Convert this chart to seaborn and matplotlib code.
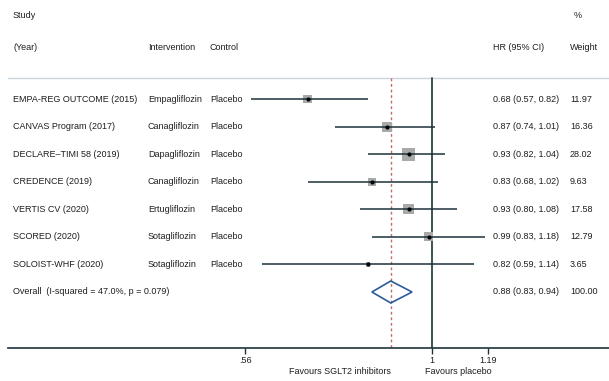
import matplotlib
matplotlib.use("Agg")
import matplotlib.pyplot as plt
import matplotlib.transforms as mtransforms
from matplotlib.patches import Polygon
import seaborn as sns
import pandas as pd
import numpy as np

studies = ["EMPA-REG OUTCOME (2015)", "CANVAS Program (2017)", "DECLARE\u2013TIMI 58 (2019)",
           "CREDENCE (2019)", "VERTIS CV (2020)", "SCORED (2020)", "SOLOIST-WHF (2020)"]
interventions = ["Empagliflozin", "Canagliflozin", "Dapagliflozin", "Canagliflozin",
                 "Ertugliflozin", "Sotagliflozin", "Sotagliflozin"]
controls = ["Placebo"] * 7
hr = [0.68, 0.87, 0.93, 0.83, 0.93, 0.99, 0.82]
lo = [0.57, 0.74, 0.82, 0.68, 0.80, 0.83, 0.59]
hi = [0.82, 1.01, 1.04, 1.02, 1.08, 1.18, 1.14]
weights = [11.97, 16.36, 28.02, 9.63, 17.58, 12.79, 3.65]
overall_label = "Overall  (I-squared = 47.0%, p = 0.079)"
overall_hr, overall_lo, overall_hi = 0.88, 0.83, 0.94
tick_vals = [0.56, 1, 1.19]
tick_labels = [".56", "1", "1.19"]

sns.set_style("white")
plt.rcParams['font.family'] = ['Liberation Sans', 'DejaVu Sans']

W, H = 609, 381
fig = plt.figure(figsize=(W / 100, H / 100), dpi=100)
fig.patch.set_facecolor("white")

axis_px = 348
row0_px, row_step = 99, 27.57
ax = fig.add_axes([8 / W, (H - axis_px) / H, (W - 8) / W, axis_px / H])
ax.set_facecolor("none")

k = 322.5  # px per ln unit
x_left = np.exp((8 - 432) / k)
x_right = np.exp((609 - 432) / k)
ax.set_xscale("log")
ax.set_xlim(x_left, x_right)
y_top = (0 - row0_px) / row_step
y_bot = (axis_px - row0_px) / row_step
ax.set_ylim(y_bot, y_top)

txt_col = "#1e1e1e"
line_col = "#1b333b"
fs = 6.5

df = pd.DataFrame({"study": studies, "hr": hr, "lo": lo, "hi": hi, "w": weights,
                   "row": np.arange(len(studies))})

# CI lines
for _, r in df.iterrows():
    ax.plot([r.lo, r.hi], [r.row, r.row], color=line_col, lw=1.1, zorder=3, solid_capstyle="butt")

# weight squares
sns.scatterplot(data=df, x="hr", y="row", size="w", sizes=(3.13 * min(weights), 3.13 * max(weights)),
                size_norm=(min(weights), max(weights)), marker="s", color="#a9a9a9",
                linewidth=0, legend=False, ax=ax, zorder=2)
# center dots
sns.scatterplot(data=df, x="hr", y="row", marker="o", color="black", s=9, linewidth=0,
                legend=False, ax=ax, zorder=4)

# reference lines
sep_y = (78 - row0_px) / row_step
ax.plot([1, 1], [sep_y, y_bot], color=line_col, lw=1.2, zorder=1)
ax.plot([overall_hr, overall_hr], [sep_y, y_bot], color="#c46a6a", lw=1.0,
        ls=(0, (2, 2)), zorder=1)
ax.axhline(sep_y, color="#c9d5dd", lw=1.0, zorder=0)

# diamond
orow = len(studies)
dh = 11 / row_step
diamond = Polygon([(overall_lo, orow), (overall_hr, orow - dh), (overall_hi, orow),
                   (overall_hr, orow + dh)], closed=True, fill=False,
                  edgecolor="#2d5b9a", lw=1.2, zorder=5)
ax.add_patch(diamond)

# axes styling
for s in ["top", "left", "right"]:
    ax.spines[s].set_visible(False)
ax.spines["bottom"].set_color(line_col)
ax.spines["bottom"].set_linewidth(1.2)
ax.set_xticks(tick_vals)
ax.set_xticklabels(tick_labels)
ax.xaxis.set_minor_locator(matplotlib.ticker.NullLocator())
ax.tick_params(axis="x", bottom=True, length=4, width=1.0, color=line_col, labelsize=fs,
               labelcolor=txt_col, pad=2)
ax.set_yticks([])
ax.set_xlabel("")
ax.set_ylabel("")

tr = mtransforms.blended_transform_factory(fig.transFigure, ax.transData)

def put(xpx, y, s, ha="left"):
    ax.text(xpx / W, y, s, transform=tr, ha=ha, va="center", fontsize=fs, color=txt_col,
            clip_on=False)

hdr1 = (16 - row0_px) / row_step
hdr2 = (47 - row0_px) / row_step
put(13, hdr1, "Study")
put(13, hdr2, "(Year)")
put(148, hdr2, "Intervention")
put(210, hdr2, "Control")
put(493, hdr2, "HR (95% CI)")
put(570, hdr2, "Weight")
put(574, hdr1, "%")

for i in range(len(studies)):
    put(13, i, studies[i])
    put(148, i, interventions[i])
    put(210, i, controls[i])
    put(493, i, f"{hr[i]:.2f} ({lo[i]:.2f}, {hi[i]:.2f})")
    put(570, i, f"{weights[i]:.2f}")

put(13, orow, overall_label)
put(493, orow, f"{overall_hr:.2f} ({overall_lo:.2f}, {overall_hi:.2f})")
put(570, orow, "100.00")

fig.text(340 / W, (H - 372) / H, "Favours SGLT2 inhibitors", ha="center", va="center",
         fontsize=fs, color=txt_col)
fig.text(458 / W, (H - 372) / H, "Favours placebo", ha="center", va="center",
         fontsize=fs, color=txt_col)

fig.savefig("out.png", dpi=100, facecolor="white")
